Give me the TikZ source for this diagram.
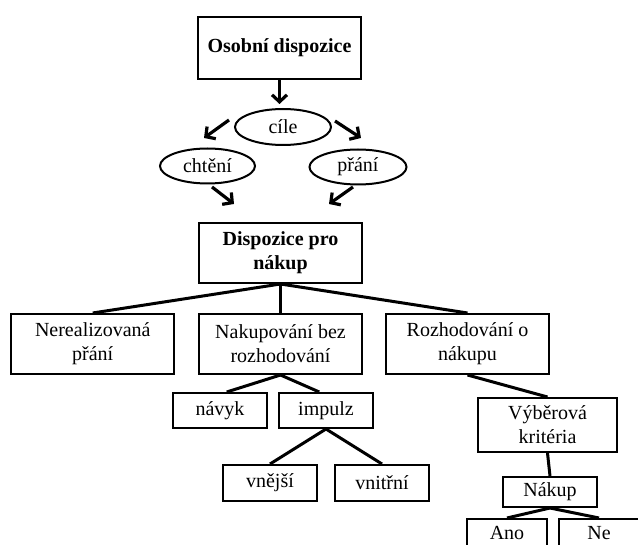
\documentclass[tikz,border=0pt]{standalone}
\usepackage{fontspec}
\setmainfont{Liberation Serif}
\usetikzlibrary{shapes.geometric, arrows.meta}

\tikzset{
  box/.style 2 args={draw, line width=2pt, minimum width=#1, minimum height=#2, inner sep=0pt, align=center},
  oval/.style={draw, ellipse, line width=2pt, minimum width=96pt, minimum height=36pt, inner sep=0pt},
  arr/.style={-{Straight Barb[length=7pt, width=15pt]}, line width=3.2pt},
  spoj/.style={line width=3pt}
}

\begin{document}
\begin{tikzpicture}[x=1pt, y=-1pt, font=\fontsize{20}{24}\selectfont]
 \useasboundingbox (0,0) rectangle (638,545);
 \clip (0,0) rectangle (638,545);

 % osobni dispozice a cile
 \node[box={163pt}{62pt}] (osobni) at (279.5,48) {\textbf{Osobní dispozice}};
 \node[oval] (cile) at (283,127) {cíle};
 \node[oval, minimum width=95pt, minimum height=35pt] (chteni) at (207.5,166) {chtění};
 \node[oval, minimum width=97pt, minimum height=35pt] (prani) at (358,167) {přání};

 % konce sipek
 \coordinate (c0) at (279.5,104);
 \coordinate (c1) at (229,120);
 \coordinate (c2) at (204,138);
 \coordinate (c3) at (335,121);
 \coordinate (c4) at (361,138);
 \coordinate (c5) at (212,187);
 \coordinate (c6) at (234,204);
 \coordinate (c7) at (353,187);
 \coordinate (c8) at (329,204);

 \draw[arr] (osobni.south) -- (c0);
 \draw[arr] (c1) -- (c2);
 \draw[arr] (c3) -- (c4);
 \draw[arr] (c5) -- (c6);
 \draw[arr] (c7) -- (c8);

 % dispozice pro nakup
 \node[box={163pt}{60pt}] (dispozice) at (280.5,253) {\textbf{Dispozice pro}\\\textbf{nákup}};

 \node[box={163pt}{60pt}] (nereal) at (92.75,344) {Nerealizovaná\\přání};
 \node[box={163pt}{60pt}] (nakupovani) at (280.5,344) {Nakupování bez\\rozhodování};
 \node[box={163pt}{60pt}] (rozhod) at (467.5,344) {Rozhodování o\\nákupu};

 \draw[spoj] (dispozice.south) -- (nereal.north);
 \draw[spoj] (dispozice.south) -- (nakupovani.north);
 \draw[spoj] (dispozice.south) -- (rozhod.north);

 % nakupovani bez rozhodovani
 \node[box={94pt}{35pt}] (navyk) at (220,410.5) {návyk};
 \node[box={94pt}{35pt}] (impulz) at (326,410.5) {impulz};
 \node[box={94pt}{36pt}] (vnejsi) at (270,483) {vnější};
 \node[box={94pt}{36pt}] (vnitrni) at (382,483) {vnitřní};

 \draw[spoj] (nakupovani.south) -- (navyk.70);
 \draw[spoj] (nakupovani.south) -- (impulz.110);
 \draw[spoj] (impulz.south) -- (vnejsi.north);
 \draw[spoj] (impulz.south) -- (vnitrni.north);

 % rozhodovani o nakupu
 \node[box={139pt}{54pt}] (vyber) at (547.5,425) {Výběrová\\kritéria};
 \node[box={94pt}{30pt}] (nakup) at (550,492) {Nákup};
 \node[box={80pt}{28pt}] (ano) at (507,533) {Ano};
 \node[box={80pt}{28pt}] (ne) at (599,533) {Ne};

 \draw[spoj] (rozhod.south) -- (vyber.north);
 \draw[spoj] (vyber.south) -- (nakup.north);
 \draw[spoj] (nakup.south) -- (ano.north);
 \draw[spoj] (nakup.south) -- (ne.north);
\end{tikzpicture}
\end{document}
